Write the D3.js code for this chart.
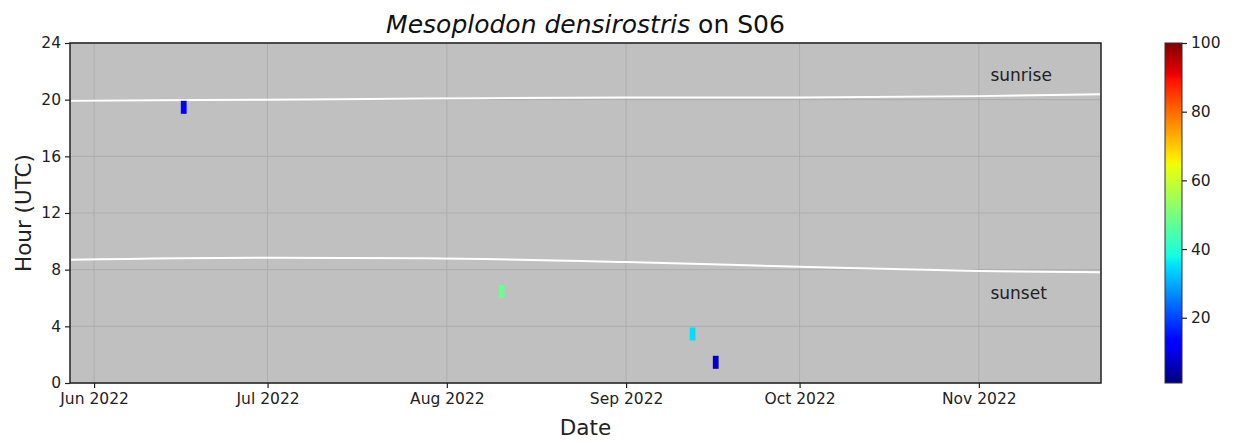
<!DOCTYPE html>
<html>
<head>
<meta charset="utf-8">
<script src="https://cdn.jsdelivr.net/npm/d3@7"></script>
<style>
  body { margin: 0; background: #fff; }
  svg { font-family: "DejaVu Sans", sans-serif; }
  .tick text { fill: #222; }
</style>
</head>
<body>
<div id="chart"></div>
<script>
// detections: day, start hour, value (colour)
const detDates = ["2022-06-16", "2022-08-10", "2022-09-12", "2022-09-16"];
const detHours = [19, 6, 3, 1];
const detValues = [13, 48, 35, 7];

// sunrise / sunset curves (hour UTC)
const sunDates = ["2022-05-28", "2022-07-01", "2022-07-28", "2022-09-01", "2022-10-01", "2022-11-01", "2022-11-22"];
const sunriseHours = [19.92, 20.0, 20.08, 20.15, 20.15, 20.25, 20.38];
const sunsetHours = [8.70, 8.84, 8.80, 8.54, 8.21, 7.90, 7.81];

const yTicks = [0, 4, 8, 12, 16, 20, 24];
const cbarTicks = [20, 40, 60, 80, 100];

const width = 1234, height = 443;
const margin = { top: 43, right: 133, bottom: 60, left: 70 };
const innerW = width - margin.left - margin.right;
const innerH = height - margin.top - margin.bottom;

const parse = d3.timeParse("%Y-%m-%d");

const svg = d3.select("#chart").append("svg")
  .attr("width", width)
  .attr("height", height);

const g = svg.append("g")
  .attr("transform", `translate(${margin.left},${margin.top})`);

const x = d3.scaleTime()
  .domain([new Date(2022, 4, 27, 20), new Date(2022, 10, 22, 3)])
  .range([0, innerW]);

const y = d3.scaleLinear()
  .domain([0, 24])
  .range([innerH, 0]);

// jet colormap (matplotlib segment data)
const jr = d3.scaleLinear().domain([0, 0.35, 0.66, 0.89, 1]).range([0, 0, 1, 1, 0.5]).clamp(true);
const jg = d3.scaleLinear().domain([0, 0.125, 0.375, 0.64, 0.91, 1]).range([0, 0, 1, 1, 0, 0]).clamp(true);
const jb = d3.scaleLinear().domain([0, 0.11, 0.34, 0.65, 1]).range([0.5, 1, 1, 0, 0]).clamp(true);
const jet = t => d3.rgb(jr(t) * 255, jg(t) * 255, jb(t) * 255).formatHex();
const cmin = 1, cmax = 100;
const norm = d3.scaleLinear().domain([cmin, cmax]).range([0, 1]).clamp(true);
const color = v => jet(norm(v));

// background
g.append("rect")
  .attr("width", innerW)
  .attr("height", innerH)
  .attr("fill", "#c0c0c0");

// grid
const monthTicks = d3.timeMonth.range(new Date(2022, 5, 1), new Date(2022, 10, 2));
g.append("g")
  .selectAll("line.vgrid")
  .data(monthTicks)
  .join("line")
  .attr("x1", d => x(d)).attr("x2", d => x(d))
  .attr("y1", 0).attr("y2", innerH)
  .attr("stroke", "#adadad")
  .attr("stroke-width", 1);

g.append("g")
  .selectAll("line.hgrid")
  .data(yTicks)
  .join("line")
  .attr("x1", 0).attr("x2", innerW)
  .attr("y1", d => y(d)).attr("y2", d => y(d))
  .attr("stroke", "#adadad")
  .attr("stroke-width", 1);

// sun lines
const line = d3.line()
  .x(d => x(d[0]))
  .y(d => y(d[1]))
  .curve(d3.curveMonotoneX);

const sunD = sunDates.map(parse);
g.append("path")
  .datum(sunD.map((d, i) => [d, sunriseHours[i]]))
  .attr("d", line)
  .attr("fill", "none")
  .attr("stroke", "#fff")
  .attr("stroke-width", 2);

g.append("path")
  .datum(sunD.map((d, i) => [d, sunsetHours[i]]))
  .attr("d", line)
  .attr("fill", "none")
  .attr("stroke", "#fff")
  .attr("stroke-width", 2);

// detections (1 day x ~1 hour cells)
const dets = detDates.map((d, i) => ({ day: parse(d), hour: detHours[i], v: detValues[i] }));
g.selectAll("rect.det")
  .data(dets)
  .join("rect")
  .attr("class", "det")
  .attr("x", d => x(d.day))
  .attr("width", d => x(d3.timeDay.offset(d.day, 1)) - x(d.day))
  .attr("y", d => y(d.hour + 0.92))
  .attr("height", d => y(d.hour) - y(d.hour + 0.92))
  .attr("fill", d => color(d.v));

// labels inside plot
g.append("text")
  .attr("x", x(new Date(2022, 10, 3)))
  .attr("y", y(21.3))
  .attr("font-size", 17)
  .attr("fill", "#222")
  .text("sunrise");

g.append("text")
  .attr("x", x(new Date(2022, 10, 3)))
  .attr("y", y(5.9))
  .attr("font-size", 17)
  .attr("fill", "#222")
  .text("sunset");

// frame
g.append("rect")
  .attr("width", innerW)
  .attr("height", innerH)
  .attr("fill", "none")
  .attr("stroke", "#222")
  .attr("stroke-width", 1.5);

// axes
const xAxis = g.append("g")
  .attr("transform", `translate(0,${innerH})`)
  .call(d3.axisBottom(x).tickValues(monthTicks).tickFormat(d3.timeFormat("%b %Y")).tickSize(5).tickPadding(5))
  .attr("font-family", "DejaVu Sans");
xAxis.select(".domain").remove();
xAxis.selectAll("text").attr("font-size", 15.5);
xAxis.selectAll(".tick line").attr("stroke", "#222").attr("stroke-width", 1.2);

const yAxis = g.append("g")
  .call(d3.axisLeft(y).tickValues(yTicks).tickSize(5).tickPadding(4))
  .attr("font-family", "DejaVu Sans");
yAxis.select(".domain").remove();
yAxis.selectAll("text").attr("font-size", 15.5);
yAxis.selectAll(".tick line").attr("stroke", "#222").attr("stroke-width", 1.2);

// axis titles
svg.append("text")
  .attr("x", margin.left + innerW / 2)
  .attr("y", 435)
  .attr("text-anchor", "middle")
  .attr("font-size", 21.5)
  .attr("fill", "#222")
  .text("Date");

svg.append("text")
  .attr("transform", `translate(31,${margin.top + innerH / 2}) rotate(-90)`)
  .attr("text-anchor", "middle")
  .attr("font-size", 21.5)
  .attr("fill", "#222")
  .text("Hour (UTC)");

// title
const title = svg.append("text")
  .attr("x", margin.left + innerW / 2)
  .attr("y", 33)
  .attr("text-anchor", "middle")
  .attr("font-size", 25)
  .attr("fill", "#111");
title.append("tspan").attr("font-style", "italic").text("Mesoplodon densirostris");
title.append("tspan").text(" on S06");

// colorbar
const cbX = 1165, cbW = 17;
const defs = svg.append("defs");
const grad = defs.append("linearGradient")
  .attr("id", "jetgrad")
  .attr("x1", 0).attr("y1", 1).attr("x2", 0).attr("y2", 0);
d3.range(0, 1.0001, 0.01).forEach(t => {
  grad.append("stop").attr("offset", t).attr("stop-color", jet(t));
});

const cy = d3.scaleLinear().domain([cmin, cmax]).range([margin.top + innerH, margin.top]);
svg.append("rect")
  .attr("x", cbX)
  .attr("y", margin.top)
  .attr("width", cbW)
  .attr("height", innerH)
  .attr("fill", "url(#jetgrad)")
  .attr("stroke", "#333")
  .attr("stroke-width", 1);

const cAxis = svg.append("g")
  .attr("transform", `translate(${cbX + cbW},0)`)
  .call(d3.axisRight(cy).tickValues(cbarTicks).tickSize(5).tickPadding(4))
  .attr("font-family", "DejaVu Sans");
cAxis.select(".domain").remove();
cAxis.selectAll("text").attr("font-size", 15.5);
cAxis.selectAll(".tick line").attr("stroke", "#222").attr("stroke-width", 1.2);
</script>
</body>
</html>
